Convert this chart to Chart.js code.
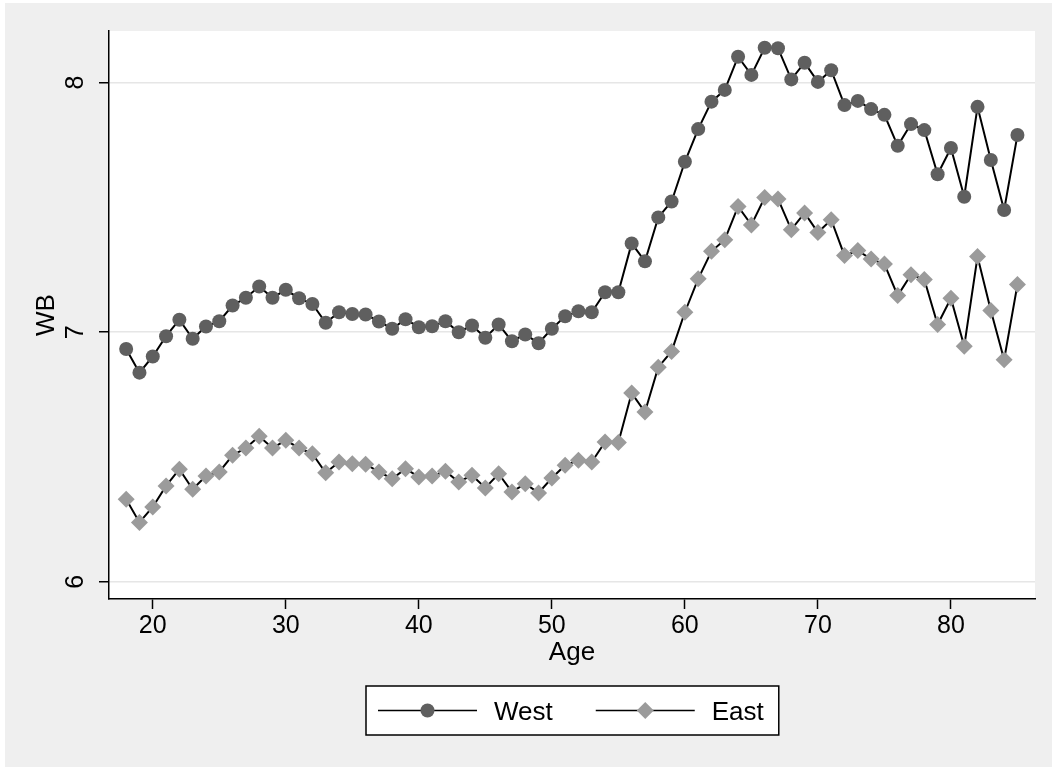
<!DOCTYPE html>
<html>
<head>
<meta charset="utf-8">
<title>WB by age</title>
<script src="https://cdn.jsdelivr.net/npm/chart.js@4/dist/chart.umd.min.js"></script>
<style>
	body { margin: 0; background: #ffffff; }
	canvas { display: block; }
</style>
</head>
<body>
<canvas id="wb-chart" width="1052" height="767"></canvas>
<script>
// datos
var edades = [18, 19, 20, 21, 22, 23, 24, 25, 26, 27, 28, 29, 30, 31, 32, 33, 34, 35, 36, 37, 38, 39, 40, 41, 42, 43, 44, 45, 46, 47, 48, 49, 50, 51,
	52, 53, 54, 55, 56, 57, 58, 59, 60, 61, 62, 63, 64, 65, 66, 67, 68, 69, 70, 71, 72, 73, 74, 75, 76, 77, 78, 79, 80, 81, 82, 83, 84, 85];

var west = [6.933, 6.838, 6.903, 6.984, 7.05, 6.974, 7.023, 7.044, 7.107, 7.138, 7.183, 7.138, 7.17, 7.136, 7.113, 7.038, 7.08, 7.073,
	7.071, 7.043, 7.014, 7.052, 7.02, 7.024, 7.044, 7.0, 7.027, 6.978, 7.031, 6.964, 6.991, 6.956, 7.014, 7.064, 7.084, 7.08,
	7.16, 7.16, 7.356, 7.284, 7.46, 7.524, 7.683, 7.814, 7.924, 7.971, 8.104, 8.031, 8.14, 8.138, 8.013, 8.08, 8.003, 8.05,
	7.91, 7.927, 7.894, 7.871, 7.747, 7.834, 7.81, 7.633, 7.738, 7.543, 7.903, 7.69, 7.49, 7.79];

var east = [6.331, 6.238, 6.30, 6.384, 6.451, 6.371, 6.424, 6.44, 6.507, 6.536, 6.583, 6.536, 6.567, 6.536, 6.513, 6.437, 6.48, 6.473,
	6.471, 6.44, 6.413, 6.453, 6.42, 6.424, 6.443, 6.40, 6.427, 6.376, 6.433, 6.36, 6.393, 6.356, 6.416, 6.467, 6.487, 6.48,
	6.56, 6.558, 6.756, 6.68, 6.86, 6.923, 7.08, 7.214, 7.324, 7.371, 7.504, 7.43, 7.54, 7.534, 7.411, 7.478, 7.4, 7.451,
	7.307, 7.327, 7.293, 7.273, 7.147, 7.23, 7.211, 7.031, 7.136, 6.944, 7.303, 7.087, 6.89, 7.191];

var series = ['West', 'East'];
var xTicks = [20, 30, 40, 50, 60, 70, 80];
var yTicks = [6, 7, 8];

var fuente = '"Liberation Sans", Arial, Helvetica, sans-serif';

var puntos = function (valores) {
	return edades.map(function (edad, i) {
		return { x: edad, y: valores[i] };
	});
};

// fondo gris de stata y area blanca del grafico
var fondo = {
	id: 'fondo',
	beforeDraw: function (chart) {
		var ctx = chart.ctx;
		var a = chart.chartArea;
		ctx.save();
		ctx.fillStyle = '#ffffff';
		ctx.fillRect(0, 0, chart.width, chart.height);
		ctx.fillStyle = '#efefef';
		ctx.fillRect(5, 3, chart.width - 5, chart.height - 3);
		ctx.fillStyle = '#ffffff';
		ctx.fillRect(a.left, a.top, a.right - a.left, a.bottom - a.top);
		ctx.restore();
	}
};

var marcador = function (ctx, estilo, r, x, y, color) {
	ctx.fillStyle = color;
	ctx.beginPath();
	if (estilo === 'rectRot') {
		ctx.moveTo(x - r, y);
		ctx.lineTo(x, y - r);
		ctx.lineTo(x + r, y);
		ctx.lineTo(x, y + r);
		ctx.closePath();
	} else {
		ctx.arc(x, y, r, 0, Math.PI * 2);
	}
	ctx.fill();
};

// leyenda tipo stata: linea con marcador y texto, dentro de una caja
var leyenda = {
	id: 'leyenda',
	afterDraw: function (chart) {
		var ctx = chart.ctx;
		var a = chart.chartArea;
		var sets = chart.data.datasets;
		var linea = 99, pad = 12, hueco = 17, entre = 43;
		ctx.save();
		ctx.font = '26px ' + fuente;
		var total = pad + 15;
		sets.forEach(function (ds, i) {
			total += linea + hueco + ctx.measureText(ds.label).width;
			if (i < sets.length - 1) total += entre;
		});
		var x0 = Math.round((a.left + a.right) / 2 - total / 2);
		var top = 686, alto = 49;
		var cy = top + alto / 2;
		ctx.fillStyle = '#ffffff';
		ctx.fillRect(x0, top, total, alto);
		ctx.strokeStyle = '#000000';
		ctx.lineWidth = 1.5;
		ctx.strokeRect(x0, top, total, alto);

		var x = x0 + pad;
		sets.forEach(function (ds, i) {
			ctx.strokeStyle = '#000000';
			ctx.lineWidth = 1.5;
			ctx.beginPath();
			ctx.moveTo(x, cy);
			ctx.lineTo(x + linea, cy);
			ctx.stroke();
			marcador(ctx, ds.pointStyle, ds.pointRadius, x + linea / 2, cy, ds.pointBackgroundColor);
			x += linea + hueco;
			ctx.fillStyle = '#000000';
			ctx.textBaseline = 'alphabetic';
			ctx.textAlign = 'left';
			ctx.fillText(ds.label, x, cy + 9.5);
			x += ctx.measureText(ds.label).width + entre;
		});
		ctx.restore();
	}
};

function makeChart() {

	console.log('Making Chart');

	var ctx = document.getElementById('wb-chart').getContext('2d');
	var chart = new Chart(ctx, {
		type: 'line',
		data: {
			datasets: [{
				label: series[0],
				data: puntos(west),
				borderColor: '#000000',
				borderWidth: 2,
				pointStyle: 'circle',
				pointRadius: 7,
				pointBackgroundColor: '#5f5f5f',
				pointBorderWidth: 0,
				fill: false,
				tension: 0
			}, {
				label: series[1],
				data: puntos(east),
				borderColor: '#000000',
				borderWidth: 2,
				pointStyle: 'rectRot',
				pointRadius: 8.5,
				pointBackgroundColor: '#9b9b9b',
				pointBorderWidth: 0,
				fill: false,
				tension: 0
			}]
		},
		options: {
			responsive: false,
			animation: false,
			devicePixelRatio: 1,
			events: [],
			layout: { padding: { top: 30, right: 17, left: 0, bottom: 0 } },
			plugins: {
				legend: { display: false },
				tooltip: { enabled: false }
			},
			scales: {
				x: {
					type: 'linear',
					min: 16.71,
					max: 86.32,
					afterBuildTicks: function (scale) {
						scale.ticks = xTicks.map(function (v) { return { value: v }; });
					},
					afterFit: function (scale) { scale.height = 168; },
					grid: {
						drawOnChartArea: false,
						tickLength: 10,
						tickColor: '#000000',
						tickWidth: 1.5
					},
					border: { color: '#000000', width: 1.5 },
					ticks: {
						color: '#000000',
						font: { family: fuente, size: 25 },
						padding: 2,
						maxRotation: 0,
						autoSkip: false
					},
					title: {
						display: true,
						text: 'Age',
						color: '#000000',
						font: { family: fuente, size: 26 },
						padding: { top: 0, bottom: 99 }
					}
				},
				y: {
					type: 'linear',
					min: 5.931,
					max: 8.207,
					afterBuildTicks: function (scale) {
						scale.ticks = yTicks.map(function (v) { return { value: v }; });
					},
					afterFit: function (scale) { scale.width = 109; },
					grid: {
						color: '#e6e6e6',
						lineWidth: 1.5,
						tickLength: 10,
						tickColor: '#000000',
						tickWidth: 1.5
					},
					border: { color: '#000000', width: 1.5 },
					ticks: {
						color: '#000000',
						font: { family: fuente, size: 25 },
						minRotation: 90,
						maxRotation: 90,
						crossAlign: 'center',
						padding: 16
					},
					title: {
						display: true,
						text: 'WB',
						color: '#000000',
						font: { family: fuente, size: 26 },
						padding: { top: 31, bottom: 0 }
					}
				}
			}
		},
		plugins: [fondo, leyenda]
	});
}

makeChart();
</script>
</body>
</html>
